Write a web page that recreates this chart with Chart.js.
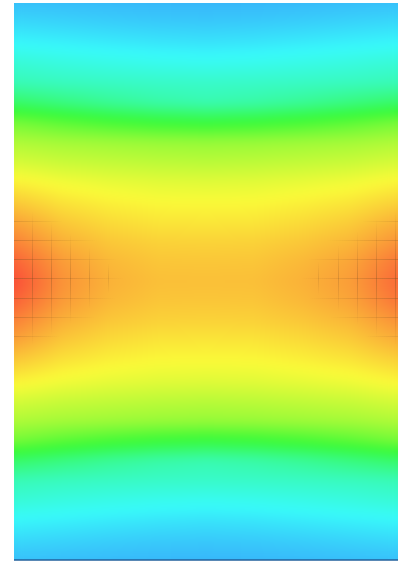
<!DOCTYPE html>
<html>
<head>
<meta charset="utf-8">
<script src="https://cdn.jsdelivr.net/npm/chart.js@4.4.1/dist/chart.umd.min.js"></script>
<style>
  html, body { margin: 0; padding: 0; background: #fff; }
  #heat { display: block; }
</style>
</head>
<body>
<canvas id="heat" width="398" height="562"></canvas>
<script>
// grid columns (x) and rows (y) of the sampled field
var columns = [0, 1, 2, 3, 4, 5, 6, 7, 8];
var rows = [0, 1, 2, 3, 4, 5, 6, 7, 8, 9, 10, 11, 12, 13, 14,
            15, 16, 17, 18, 19, 20, 21, 22, 23, 24, 25, 26, 27, 28];

// field values, 0 = blue, 100 = red (one array per row, top to bottom)
var heatValues = [
  [3.5, 3.1, 2.6, 2.2, 2, 2.2, 2.6, 3.1, 3.5],
  [7.5, 6.7, 5.9, 5.3, 5, 5.3, 5.9, 6.7, 7.5],
  [12, 11.1, 10.2, 9.4, 9, 9.4, 10.2, 11.1, 12],
  [18, 16.5, 15.4, 14.5, 14, 14.5, 15.4, 16.5, 18],
  [23, 21.7, 20.9, 20.3, 20, 20.3, 20.9, 21.7, 23],
  [35, 31.4, 28, 25.4, 24, 25.4, 28, 31.4, 35],
  [52, 48.1, 45, 42.7, 41.5, 42.7, 45, 48.1, 52],
  [61, 59.3, 58.3, 57.4, 57, 57.4, 58.3, 59.3, 61],
  [67, 65, 63.9, 63, 62.5, 63, 63.9, 65, 67],
  [74, 71.4, 69.8, 68.8, 68.5, 68.8, 69.8, 71.1, 73.4],
  [80, 76, 73.9, 72.7, 72.5, 72.7, 73.9, 75.5, 78.6],
  [86, 80.2, 77.2, 75.7, 75.5, 75.7, 77.2, 79.4, 83.9],
  [91, 83.9, 80.3, 78.7, 78.5, 78.7, 80.3, 82.8, 88.3],
  [96, 87.2, 82.6, 80.6, 80.5, 80.6, 82.6, 85.7, 92.8],
  [99, 88.6, 83.7, 81.6, 81.5, 81.6, 83.7, 86.9, 94.8],
  [96, 87.2, 82.6, 80.6, 80.5, 80.6, 82.6, 85.7, 92.8],
  [91, 83.9, 80.3, 78.7, 78.5, 78.7, 80.3, 82.8, 88.3],
  [86, 80.2, 77.2, 75.7, 75.5, 75.7, 77.2, 79.4, 83.9],
  [80, 76, 73.9, 72.7, 72.5, 72.7, 73.9, 75.5, 78.6],
  [74, 71.4, 69.8, 68.8, 68.5, 68.8, 69.8, 71.1, 73.4],
  [67, 65, 63.9, 63, 62.5, 63, 63.9, 65, 67],
  [61, 59.3, 58.3, 57.4, 57, 57.4, 58.3, 59.3, 61],
  [52, 48.1, 45, 42.7, 41.5, 42.7, 45, 48.1, 52],
  [35, 31.4, 28, 25.4, 24, 25.4, 28, 31.4, 35],
  [23, 21.7, 20.9, 20.3, 20, 20.3, 20.9, 21.7, 23],
  [18, 16.5, 15.4, 14.5, 14, 14.5, 15.4, 16.5, 18],
  [12, 11.1, 10.2, 9.4, 9, 9.4, 10.2, 11.1, 12],
  [7.5, 6.7, 5.9, 5.3, 5, 5.3, 5.9, 6.7, 7.5],
  [3.5, 3.1, 2.6, 2.2, 2, 2.2, 2.6, 3.1, 3.5]
];

// faint grid lines near the two hot spots
var leftGridX = [0.37, 0.77, 1.17, 1.56, 1.96];
var rightGridX = [6.34, 6.74, 7.14, 7.54, 7.94];
var gridY = [10.94, 11.91, 12.88, 13.84, 14.81, 15.78, 16.75];
var leftFocus = [-0.03, 13.84];
var rightFocus = [8.3, 13.84];

var points = [];
rows.forEach(function (r) {
  columns.forEach(function (c) {
    points.push({ x: c, y: r, v: heatValues[r][c] });
  });
});

function valueToRgb(v) {
  var hue = 205 - 2 * Math.max(0, Math.min(100, v));
  var s = 0.95, l = 0.6;
  var a = s * Math.min(l, 1 - l);
  function f(n) {
    var k = (n + hue / 30) % 12;
    return Math.round(255 * (l - a * Math.max(-1, Math.min(k - 3, 9 - k, 1))));
  }
  return [f(0), f(8), f(4)];
}

var heatPlugin = {
  id: 'heatField',
  beforeDatasetsDraw: function (chart) {
    var ctx = chart.ctx, area = chart.chartArea;
    var xs = chart.scales.x, ys = chart.scales.y;
    var w = Math.round(area.right - area.left), h = Math.round(area.bottom - area.top);
    var off = document.createElement('canvas');
    off.width = w; off.height = h;
    var octx = off.getContext('2d');
    var img = octx.createImageData(w, h);
    var lastR = rows.length - 1, lastC = columns.length - 1;
    for (var py = 0; py < h; py++) {
      var ry = Math.max(0, Math.min(lastR, ys.getValueForPixel(area.top + py + 0.5)));
      var r0 = Math.min(Math.floor(ry), lastR - 1), fy = ry - r0;
      for (var px = 0; px < w; px++) {
        var cx = Math.max(0, Math.min(lastC, xs.getValueForPixel(area.left + px + 0.5)));
        var c0 = Math.min(Math.floor(cx), lastC - 1), fx = cx - c0;
        var top = heatValues[r0][c0] * (1 - fx) + heatValues[r0][c0 + 1] * fx;
        var bot = heatValues[r0 + 1][c0] * (1 - fx) + heatValues[r0 + 1][c0 + 1] * fx;
        var rgb = valueToRgb(top * (1 - fy) + bot * fy);
        var i = (py * w + px) * 4;
        img.data[i] = rgb[0]; img.data[i + 1] = rgb[1]; img.data[i + 2] = rgb[2]; img.data[i + 3] = 255;
      }
    }
    octx.putImageData(img, 0, 0);
    ctx.save();
    ctx.beginPath();
    ctx.rect(area.left, area.top, area.right - area.left, area.bottom - area.top);
    ctx.clip();
    ctx.drawImage(off, area.left, area.top);
    // soften the bilinear creases
    ctx.filter = 'blur(4px)';
    ctx.drawImage(off, area.left, area.top);
    ctx.filter = 'none';
    ctx.restore();
  },
  afterDatasetsDraw: function (chart) {
    var ctx = chart.ctx, area = chart.chartArea;
    var xs = chart.scales.x, ys = chart.scales.y;
    var rx = 112, ryy = 72, ryh = 77;
    ctx.save();
    ctx.beginPath();
    ctx.rect(area.left, area.top, area.right - area.left, area.bottom - area.top);
    ctx.clip();
    ctx.lineWidth = 1;

    function drawSet(lineXs, focus) {
      var fx = xs.getPixelForValue(focus[0]), fy = ys.getPixelForValue(focus[1]);
      var dir = focus[0] < 4 ? 1 : -1;
      lineXs.forEach(function (gx) {
        var px = Math.round(xs.getPixelForValue(gx)) + 0.5;
        var dx = Math.abs(px - fx);
        if (dx >= rx) return;
        var half = ryy * (1 - Math.pow(dx / rx, 1.5));
        var a = 0.4 * Math.sqrt(1 - dx / rx);
        var g = ctx.createLinearGradient(px, fy - half, px, fy + half);
        g.addColorStop(0, 'rgba(120,80,30,0)');
        g.addColorStop(0.5, 'rgba(120,80,30,' + a + ')');
        g.addColorStop(1, 'rgba(120,80,30,0)');
        ctx.strokeStyle = g;
        ctx.beginPath();
        ctx.moveTo(px, fy - half);
        ctx.lineTo(px, fy + half);
        ctx.stroke();
      });
      gridY.forEach(function (gy) {
        var py = Math.round(ys.getPixelForValue(gy)) + 0.5;
        var dy = Math.abs(py - fy);
        if (dy >= ryh) return;
        var half = rx * (1 - (dy / ryh) * (dy / ryh));
        var a = 0.4 * Math.sqrt(1 - dy / ryh);
        var g = ctx.createLinearGradient(fx, py, fx + dir * half, py);
        g.addColorStop(0, 'rgba(120,80,30,' + a + ')');
        g.addColorStop(1, 'rgba(120,80,30,0)');
        ctx.strokeStyle = g;
        ctx.beginPath();
        ctx.moveTo(fx, py);
        ctx.lineTo(fx + dir * half, py);
        ctx.stroke();
      });
    }
    drawSet(leftGridX, leftFocus);
    drawSet(rightGridX, rightFocus);
    ctx.restore();

    // bottom border
    ctx.save();
    ctx.strokeStyle = '#22609c';
    ctx.lineWidth = 1.5;
    ctx.beginPath();
    ctx.moveTo(area.left, area.bottom);
    ctx.lineTo(area.right, area.bottom);
    ctx.stroke();
    ctx.restore();
  }
};

var ctx = document.getElementById('heat');
var heatChart = new Chart(ctx, {
  type: 'scatter',
  data: {
    datasets: [{
      label: 'field',
      data: points,
      pointRadius: 0,
      pointHoverRadius: 0
    }]
  },
  options: {
    responsive: false,
    animation: false,
    devicePixelRatio: 1,
    layout: { padding: { left: 14, top: 3, right: 0, bottom: 2 } },
    scales: {
      x: { display: false, min: 0, max: 8 },
      y: { display: false, min: 0, max: 28, reverse: true }
    },
    plugins: {
      legend: { display: false },
      tooltip: { enabled: false }
    }
  },
  plugins: [heatPlugin]
});
</script>
</body>
</html>
